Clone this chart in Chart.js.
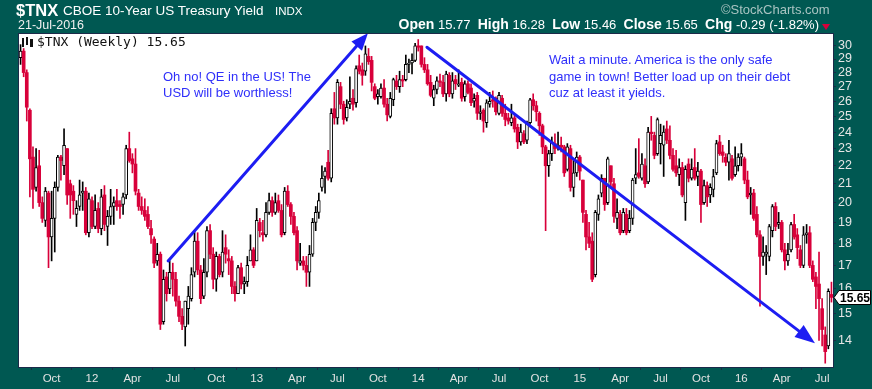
<!DOCTYPE html>
<html><head><meta charset="utf-8">
<script src="https://cdn.jsdelivr.net/npm/chart.js@4.4.1/dist/chart.umd.min.js"></script>
<style>
html,body{margin:0;padding:0;background:#005852;width:872px;height:389px;overflow:hidden;font-family:"Liberation Sans",Arial,sans-serif;}
#wrap{position:relative;width:872px;height:389px;}
canvas{position:absolute;left:0;top:0;}
.t{position:absolute;white-space:nowrap;color:#fff;}
.note{position:absolute;white-space:nowrap;color:#2f2ffa;font-size:13px;line-height:16px;}
</style></head><body>
<div id="wrap">
<canvas id="c" width="872" height="389"></canvas>
<div class="t" style="left:16px;top:1px;font-size:16.5px;font-weight:bold;">$TNX</div>
<div class="t" style="left:63px;top:3px;font-size:13.5px;">CBOE 10-Year US Treasury Yield</div>
<div class="t" style="left:275px;top:5px;font-size:11.5px;">INDX</div>
<div class="t" style="left:18px;top:18px;font-size:12.5px;color:#f0f0f0;">21-Jul-2016</div>
<div class="t" style="left:721px;top:2px;font-size:13px;color:#a9c4c2;">©StockCharts.com</div>
<div class="t" style="right:53px;top:16px;font-size:13px;"><b style="font-size:14px">Open</b> 15.77&nbsp; <b style="font-size:14px">High</b> 16.28&nbsp; <b style="font-size:14px">Low</b> 15.46&nbsp; <b style="font-size:14px">Close</b> 15.65&nbsp; <b style="font-size:14px">Chg</b> -0.29 (-1.82%)</div>
<div style="position:absolute;left:822px;top:24px;width:0;height:0;border-left:4px solid transparent;border-right:4px solid transparent;border-top:6px solid #d8003a;"></div>
<div style="position:absolute;left:22px;top:38px;width:2px;height:9px;background:#111;"></div>
<div style="position:absolute;left:26px;top:37px;width:2px;height:8px;background:#111;"></div>
<div style="position:absolute;left:30px;top:39px;width:3px;height:8px;background:#111;"></div>
<div class="t" style="left:37px;top:34px;font-size:13px;color:#111;font-family:'DejaVu Sans Mono',monospace;">$TNX (Weekly) 15.65</div>
<div class="note" style="left:163px;top:69px;">Oh no! QE in the US! The<br>USD will be worthless!</div>
<div class="note" style="left:549px;top:52px;line-height:16.5px;">Wait a minute. America is the only safe<br>game in town! Better load up on their debt<br>cuz at least it yields.</div>
</div>
<script>
const weekStart = '2011-07-18';
const opens = [
29.1,29.6,28.0,25.4,22.5,20.8,22.0,20.0,19.1,20.5,18.3,19.2,20.8,22.5,22.0,23.0,21.0,20.6,19.4,19.8,20.5,20.6,18.5,20.1,
18.8,19.7,18.7,20.4,18.8,19.3,19.8,20.1,19.9,19.9,20.4,23.0,22.4,22.1,20.5,19.8,19.6,19.4,18.7,18.2,17.2,17.5,14.7,16.5,16.0,16.7,16.4,15.5,14.9,14.5,15.2,15.6,16.7,18.1,16.8,15.7,16.7,18.6,17.5,16.4,17.4,16.7,17.8,17.3,17.2,16.1,15.8,16.9,16.2,16.3,17.2,17.7,
17.2,19.0,18.5,18.4,19.5,20.1,19.5,20.1,19.6,18.5,20.6,19.9,19.3,18.6,17.1,17.2,17.0,16.7,17.5,19.0,19.5,20.8,21.4,22.2,21.3,25.5,24.9,27.0,25.8,24.9,25.8,26.2,25.9,28.5,28.2,28.1,29.2,28.9,27.0,26.3,26.3,26.9,25.8,25.0,26.1,27.4,27.0,27.5,27.5,28.6,28.7,28.9,30.0,
30.0,28.6,28.2,27.3,26.2,26.8,27.4,27.3,26.5,27.8,26.5,27.5,27.1,27.3,26.3,27.2,26.9,26.0,26.4,25.2,25.4,24.6,25.8,26.1,26.2,25.2,26.2,25.2,24.9,24.6,24.9,24.3,23.4,23.9,23.5,24.6,26.1,25.7,25.2,24.4,23.1,22.0,22.7,23.3,23.1,23.2,23.1,21.8,23.0,20.8,21.6,22.5,
21.2,19.4,18.3,18.1,16.6,19.4,20.5,21.3,20.0,22.0,21.0,19.2,19.4,18.6,19.4,18.6,19.2,21.3,21.6,21.3,22.0,21.1,24.0,23.8,22.7,23.3,23.2,24.2,23.5,22.6,22.0,21.5,21.9,20.0,22.1,21.3,21.9,21.4,21.7,20.0,20.9,20.4,20.7,21.6,23.4,22.8,22.5,22.2,22.4,21.5,22.0,22.5,
22.4,21.2,20.4,20.5,19.4,18.4,17.4,17.5,17.4,18.6,19.8,18.9,19.0,17.7,17.2,17.7,18.9,18.4,17.7,17.0,18.4,18.5,17.0,16.5,16.2,15.2,14.2,13.8,15.77];
const highs = [
30.1,29.8,28.2,25.5,23.1,23.0,22.9,20.3,20.8,20.6,20.6,21.1,22.6,22.6,24.2,23.0,21.2,20.9,20.1,21.2,21.1,20.8,20.5,20.3,
20.4,20.0,20.7,20.9,19.6,20.7,20.3,20.7,20.1,20.5,23.2,24.0,22.7,23.0,20.7,20.3,20.2,19.8,19.1,18.3,18.0,17.6,16.8,16.7,17.2,17.1,16.7,15.7,15.2,15.5,16.1,16.9,18.6,18.5,17.0,17.3,18.8,18.9,17.8,17.6,17.5,18.6,18.4,17.7,17.4,16.3,17.0,17.1,16.5,17.4,18.4,17.8,
19.7,19.2,19.1,20.0,20.5,20.3,20.5,20.4,19.9,20.8,20.9,20.0,19.5,18.8,18.0,17.4,17.4,17.9,19.2,19.8,20.5,22.0,21.9,22.9,25.5,26.6,27.5,27.3,26.0,26.1,27.7,26.8,28.5,29.3,28.7,30.0,29.8,29.2,27.2,26.8,27.2,27.5,26.2,26.6,27.6,27.8,28.1,27.8,29.3,29.0,29.4,30.2,30.5,
30.0,29.1,28.6,27.8,27.1,27.7,27.9,27.8,28.1,28.0,28.0,27.8,28.2,27.6,27.4,27.4,27.2,26.5,26.6,25.7,25.5,26.1,26.6,26.7,26.3,26.6,26.4,25.8,25.2,25.8,25.1,24.5,24.5,24.1,24.7,26.2,26.5,26.0,25.3,24.5,23.2,22.9,23.7,23.9,24.0,23.7,23.2,23.3,23.2,22.4,22.8,22.6,
21.2,19.6,19.0,18.5,19.6,20.4,21.5,21.3,22.5,22.0,21.3,20.2,19.6,19.7,19.7,19.6,21.3,23.0,23.6,22.7,22.4,24.3,25.0,24.0,24.9,24.5,24.4,24.7,24.4,23.0,22.9,22.4,22.2,22.0,22.4,22.4,23.0,22.2,21.8,21.2,21.1,21.0,21.8,23.5,23.8,23.2,22.7,23.5,22.6,23.1,22.7,23.3,
22.5,21.7,20.8,20.7,19.8,18.6,18.3,17.9,18.9,19.9,20.0,19.5,19.1,18.0,18.0,19.0,19.4,18.7,17.9,18.8,18.9,18.8,17.2,16.7,17.6,15.6,14.5,16.0,16.28];
const lows = [
28.6,27.7,24.7,20.3,19.7,20.6,19.8,19.0,18.8,16.9,17.2,17.6,20.6,21.2,21.5,19.9,19.2,19.4,18.8,19.6,19.6,18.4,18.3,18.7,
18.7,18.5,18.4,18.6,17.9,18.9,18.9,19.6,19.2,19.4,20.2,22.2,21.6,20.4,19.6,19.4,19.1,18.7,18.0,16.9,17.0,14.4,14.6,15.5,15.8,15.7,15.3,14.7,14.4,13.8,14.6,15.5,16.5,16.6,15.4,15.6,16.5,17.3,16.0,15.9,16.5,16.5,17.1,16.6,15.8,15.5,15.8,16.0,15.8,16.1,17.2,16.9,
17.2,18.3,18.1,18.3,19.4,19.3,19.4,19.5,18.3,18.4,19.8,18.9,18.4,16.8,17.0,16.8,16.1,16.1,17.4,18.6,19.2,20.6,20.5,21.2,21.1,24.5,24.5,25.5,24.5,24.7,25.5,25.4,25.6,27.9,27.1,27.8,28.6,26.7,26.1,25.8,26.2,25.6,24.7,24.9,25.7,26.8,26.6,27.0,27.4,28.0,27.9,28.8,29.6,
28.4,28.0,27.1,26.3,25.7,26.5,27.0,26.3,26.0,26.3,26.2,26.8,27.0,26.0,26.0,26.5,25.7,25.6,24.8,24.8,24.0,24.3,25.6,25.6,25.1,25.1,25.0,24.4,24.5,24.4,24.0,23.0,23.2,23.3,23.3,24.5,25.4,24.7,23.8,22.7,18.6,21.4,22.3,22.7,22.9,22.8,21.4,21.7,20.6,20.3,21.4,21.2,
19.0,17.7,17.8,16.3,16.5,19.1,20.3,19.6,19.9,20.8,19.0,18.7,18.4,18.5,18.4,18.5,18.9,21.0,21.3,21.2,20.8,21.0,23.5,22.4,22.6,22.1,21.4,23.3,22.4,21.7,21.4,20.9,20.3,19.1,21.1,21.2,21.2,20.9,19.0,19.9,19.8,20.0,20.3,21.5,22.6,22.2,22.0,21.2,21.2,21.4,21.7,22.0,
21.0,20.2,19.4,19.1,18.3,15.3,17.0,16.6,17.2,18.3,18.6,18.7,17.6,16.8,17.0,17.6,18.2,17.3,16.9,16.9,18.0,16.9,16.3,15.2,14.0,13.8,13.2,13.7,15.46];
const closes = [
29.6,28.0,25.6,22.4,20.7,21.9,20.0,19.2,20.6,18.3,19.2,20.8,22.5,22.3,23.2,20.4,20.4,20.1,19.7,20.4,20.6,18.5,20.2,18.8,
19.6,18.7,20.3,18.9,19.3,19.8,20.0,19.8,19.8,20.3,23.0,22.3,22.1,20.6,19.8,19.6,19.3,18.8,18.4,17.1,17.5,14.6,16.4,15.8,16.7,16.4,15.5,14.9,14.6,15.5,15.7,16.6,18.1,16.8,15.6,16.7,18.6,17.5,16.4,17.4,16.6,17.6,17.5,17.2,16.1,15.8,16.9,16.2,16.3,17.0,17.7,17.0,
19.1,18.6,18.4,19.5,20.1,19.5,20.0,19.6,18.4,20.6,19.9,19.3,18.5,17.2,17.2,17.0,16.7,17.5,19.0,19.5,20.1,21.3,21.7,21.3,25.2,24.9,27.3,25.8,24.8,25.6,26.0,25.8,28.3,28.1,27.8,29.4,28.8,27.3,26.2,26.5,26.9,25.8,25.1,26.2,27.5,27.0,27.5,27.4,28.6,28.7,28.9,30.0,29.9,
28.6,28.2,27.2,26.4,26.8,27.4,27.3,26.5,27.9,26.5,27.4,27.2,27.2,26.2,27.2,26.6,25.9,26.2,25.2,25.3,24.7,25.9,26.0,26.0,25.3,26.4,25.2,24.8,24.7,24.9,24.2,23.4,24.0,23.4,24.6,26.1,25.7,25.3,24.4,23.1,22.0,22.7,23.4,23.0,23.2,23.1,21.6,23.1,20.8,21.6,22.5,21.7,
19.5,18.3,18.0,16.4,19.5,20.2,21.3,19.9,22.4,21.1,19.3,19.5,18.5,19.5,18.5,19.2,21.2,21.5,21.4,22.1,21.0,24.0,23.9,22.6,24.8,23.8,24.0,23.5,22.6,21.8,21.6,21.9,20.4,21.8,21.3,21.8,21.3,21.7,19.9,20.9,20.3,20.8,21.4,23.3,22.7,22.6,22.2,22.7,21.3,22.0,22.5,22.7,
21.2,20.3,20.5,19.2,18.4,17.4,17.6,17.6,18.8,19.8,18.8,19.0,17.7,17.2,17.5,18.9,18.3,17.8,17.0,18.4,18.5,17.0,16.4,16.1,15.6,14.4,13.6,15.9,15.65];
const tickLabels = ['Oct','12','Apr','Jul','Oct','13','Apr','Jul','Oct','14','Apr','Jul','Oct','15','Apr','Jul','Oct','16','Apr','Jul'];
const tickMonths = ['2011-10-01','2012-01-01','2012-04-01','2012-07-01','2012-10-01','2013-01-01','2013-04-01','2013-07-01','2013-10-01','2014-01-01','2014-04-01','2014-07-01','2014-10-01','2015-01-01','2015-04-01','2015-07-01','2015-10-01','2016-01-01','2016-04-01','2016-07-01'];
const yTicks = [14,15,16,17,18,19,20,21,22,23,24,25,26,27,28,29,30];
const arrowUp = {from:[47.5,17.2], to:[111.8,31.0]};
const arrowDown = {from:[130.8,29.9], to:[255.7,13.9]};

const DAY = 86400000;
const t0 = Date.parse(weekStart + 'T00:00:00Z');
const weeks = opens.map((_, i) => new Date(t0 + i*7*DAY).toISOString().slice(0,10));
const tickAt = {};
tickMonths.forEach((d, k) => { tickAt[Math.floor((Date.parse(d+'T00:00:00Z') - t0)/(7*DAY))] = tickLabels[k]; });

const RED = '#d8003a';
const up = closes.map((c, i) => c >= opens[i]);
const bodies = opens.map((o, i) => [Math.min(o, closes[i]), Math.max(o, closes[i])]);
const wicks = lows.map((l, i) => [l, highs[i]]);

const FONT = '"Liberation Sans", Arial, sans-serif';

const deco = {
  id: 'deco',
  beforeDraw(chart) {
    const {ctx, chartArea: a} = chart;
    ctx.save(); ctx.fillStyle = '#fff'; ctx.fillRect(a.left, a.top, a.right - a.left, a.bottom - a.top); ctx.restore();
  },
  afterDatasetsDraw(chart) {
    const {ctx, scales: {x, y}} = chart;
    const drawArrow = (arr, head, w) => {
      const x1 = x.getPixelForValue(arr.from[0]), y1 = y.getPixelForValue(arr.from[1]);
      const x2 = x.getPixelForValue(arr.to[0]), y2 = y.getPixelForValue(arr.to[1]);
      const a = Math.atan2(y2 - y1, x2 - x1);
      const bx = x2 - head*Math.cos(a), by = y2 - head*Math.sin(a);
      ctx.save();
      ctx.strokeStyle = '#1d1df2'; ctx.fillStyle = '#1d1df2'; ctx.lineWidth = 3; ctx.lineCap = 'round';
      ctx.beginPath(); ctx.moveTo(x1, y1); ctx.lineTo(bx, by); ctx.stroke();
      ctx.beginPath(); ctx.moveTo(x2, y2);
      ctx.lineTo(bx + w/2*Math.sin(a), by - w/2*Math.cos(a));
      ctx.lineTo(bx - w/2*Math.sin(a), by + w/2*Math.cos(a));
      ctx.closePath(); ctx.fill();
      ctx.restore();
    };
    drawArrow(arrowUp, 17, 14);
    drawArrow(arrowDown, 20, 15);
  },
  afterDraw(chart) {
    const {ctx, chartArea: a, scales: {y}} = chart;
    ctx.save();
    ctx.strokeStyle = '#1b2a49'; ctx.lineWidth = 1;
    ctx.strokeRect(a.left - 0.5, a.top - 0.5, a.right - a.left + 1, a.bottom - a.top + 1);
    const last = closes[closes.length - 1];
    const py = Math.round(y.getPixelForValue(last)) + 0.5;
    ctx.fillStyle = '#fff'; ctx.strokeStyle = '#000';
    ctx.beginPath();
    ctx.moveTo(a.right + 1, py);
    ctx.lineTo(a.right + 6, py - 7);
    ctx.lineTo(870.5, py - 7);
    ctx.lineTo(870.5, py + 7);
    ctx.lineTo(a.right + 6, py + 7);
    ctx.closePath(); ctx.fill(); ctx.stroke();
    ctx.fillStyle = '#000'; ctx.font = 'bold 12px ' + FONT; ctx.textBaseline = 'middle'; ctx.textAlign = 'left';
    ctx.fillText(last.toFixed(2), a.right + 7, py + 1);
    ctx.restore();
  }
};

new Chart(document.getElementById('c'), {
  type: 'bar',
  data: {
    labels: weeks,
    datasets: [
      { label: 'body', data: bodies, order: 0, grouped: false, barThickness: 3, minBarLength: 1,
        backgroundColor: up.map(u => u ? '#ffffff' : RED),
        borderColor: up.map(u => u ? '#000000' : RED),
        borderWidth: up.map(u => u ? 1 : 0), borderSkipped: false },
      { label: 'wick', data: wicks, order: 1, grouped: false, barThickness: 1,
        backgroundColor: up.map(u => u ? '#000000' : RED), borderWidth: 0 }
    ]
  },
  options: {
    responsive: false, animation: false, devicePixelRatio: 1, events: [],
    layout: { padding: { left: 19, top: 34, right: 0, bottom: 0 } },
    plugins: { legend: { display: false }, tooltip: { enabled: false } },
    scales: {
      x: {
        type: 'category', offset: true,
        afterFit(s) { s.height = 22; },
        grid: { display: true, drawOnChartArea: false, drawTicks: true, tickLength: 3, color: '#1b2a49' },
        border: { display: false },
        ticks: {
          autoSkip: false, maxRotation: 0, minRotation: 0, padding: 2, color: '#e2e2e2',
          font: (c) => ({ family: FONT, size: 11.5, weight: /^\d+$/.test(tickAt[c.index] || '') ? 'bold' : 'normal' }),
          callback: (v, i) => (tickAt[i] !== undefined ? tickAt[i] : null)
        }
      },
      y: {
        type: 'logarithmic', position: 'right', min: 13.07, max: 30.94,
        afterFit(s) { s.width = 39; },
        afterBuildTicks(s) { s.ticks = yTicks.map(v => ({ value: v })); },
        grid: { display: true, drawOnChartArea: false, tickLength: 3, color: '#1b2a49' },
        border: { display: false },
        ticks: { color: '#e6e6e6', padding: 2, font: { family: FONT, size: 12.5 }, callback: (v) => String(v) }
      }
    }
  },
  plugins: [deco]
});
</script>
</body></html>
